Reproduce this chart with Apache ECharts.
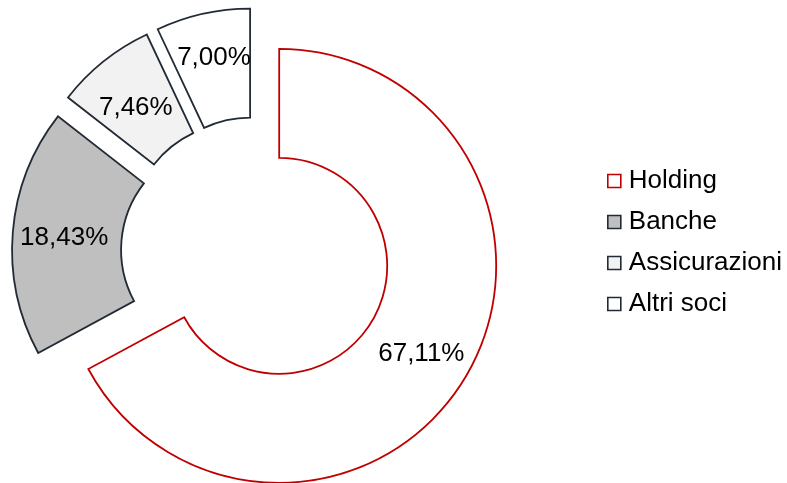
<!DOCTYPE html>
<html>
<head>
<meta charset="utf-8">
<script src="https://cdn.jsdelivr.net/npm/echarts@6/dist/echarts.min.js"></script>
<style>
  html, body { margin: 0; padding: 0; background: #ffffff; }
  #chart { width: 787px; height: 483px; }
</style>
</head>
<body>
<div id="chart"></div>
<script>
// Shareholder breakdown (percent of capital)
const categories = ['Holding', 'Banche', 'Assicurazioni', 'Altri soci'];
const shares = [67.11, 18.43, 7.46, 7.00];

// Per-slice look: fill and outline
const fills = ['#ffffff', '#bfbfbf', '#f2f2f2', '#ffffff'];
const outlines = ['#c00000', '#222b35', '#222b35', '#222b35'];
// small vertical nudges of the value labels inside their slices
const labelShiftY = [3, 2, 6, -6];

const FONT = '"Liberation Sans", Arial, sans-serif';

const data = categories.map((name, i) => ({
  name: name,
  value: shares[i],
  selected: true,
  itemStyle: {
    color: fills[i],
    borderColor: outlines[i],
    borderWidth: 1.8,
    borderJoin: 'miter'
  }
}));

const chart = echarts.init(document.getElementById('chart'), null, { renderer: 'canvas' });
chart.setOption({
  animation: false,
  backgroundColor: '#ffffff',
  legend: {
    orient: 'vertical',
    left: 607,
    top: 168,
    padding: 0,
    itemGap: 15,
    itemWidth: 13,
    itemHeight: 13,
    icon: 'rect',
    selectedMode: false,
    data: categories.map((name, i) => ({
      name: name,
      itemStyle: { color: fills[i], borderColor: outlines[i], borderWidth: 1.6 }
    })),
    textStyle: {
      fontFamily: FONT,
      fontSize: 26,
      lineHeight: 26,
      color: '#000000',
      padding: [0, 0, 0, 3]
    }
  },
  series: [{
    type: 'pie',
    center: [256, 252],
    radius: [108, 217],
    startAngle: 90,
    clockwise: true,
    selectedMode: 'multiple',
    selectedOffset: 27,
    avoidLabelOverlap: false,
    label: {
      show: true,
      position: 'inside',
      fontFamily: FONT,
      fontSize: 26,
      color: '#000000',
      formatter: p => p.value.toFixed(2).replace('.', ',') + '%'
    },
    labelLayout: p => ({ dy: labelShiftY[p.dataIndex] }),
    labelLine: { show: false },
    emphasis: { disabled: true },
    data: data
  }]
});
</script>
</body>
</html>
